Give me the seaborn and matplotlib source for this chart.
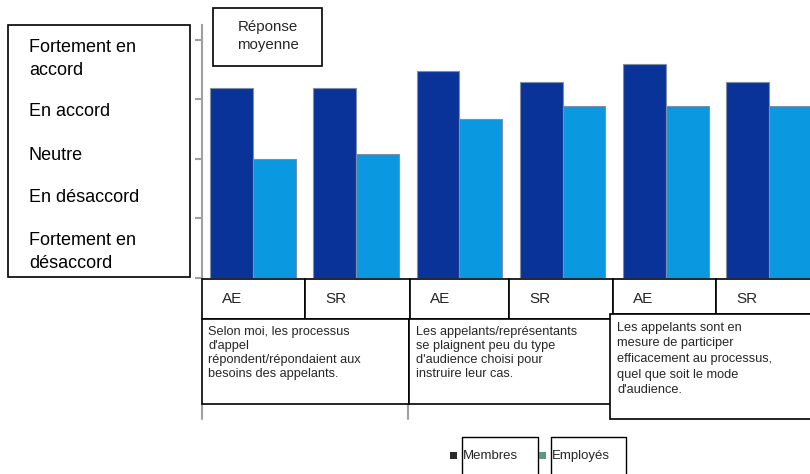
import matplotlib
matplotlib.use("Agg")
import matplotlib.pyplot as plt
import seaborn as sns
import pandas as pd
from matplotlib.patches import Rectangle
from matplotlib.lines import Line2D

# --- data -------------------------------------------------------------
groupes = ["AE", "SR", "AE", "SR", "AE", "SR"]
membres = [4.19, 4.19, 4.48, 4.29, 4.60, 4.29]
employes = [3.00, 3.08, 3.68, 3.89, 3.89, 3.89]
series = ["Membres", "Employés"]
couleurs = ["#0a3399", "#0a99e0"]
echelle = ["Fortement en\naccord", "En accord", "Neutre", "En désaccord",
           "Fortement en\ndésaccord"]
enonces = [
    "Selon moi, les processus\nd'appel\nrépondent/répondaient aux\nbesoins des appelants.",
    "Les appelants/représentants\nse plaignent peu du type\nd'audience choisi pour\ninstruire leur cas.",
    "Les appelants sont en\nmesure de participer\nefficacement au processus,\nquel que soit le mode\nd'audience.",
]
titre_axe = "Réponse\nmoyenne"

df = pd.DataFrame({
    "pos": list(range(len(groupes))) * 2,
    "valeur": membres + employes,
    "serie": [series[0]] * len(membres) + [series[1]] * len(employes),
})

W, H = 810, 474
FONT = "Liberation Sans"
sns.set_theme(style="white")
plt.rcParams["font.family"] = [FONT, "DejaVu Sans"]

fig = plt.figure(figsize=(W / 100, H / 100), dpi=100)


def fx(x):
    return x / W


def fy(y):
    return 1 - y / H


def box(x0, y0, x1, y1, lw=1.2, z=5):
    fig.add_artist(Rectangle((fx(x0), fy(y1)), fx(x1) - fx(x0), fy(y0) - fy(y1),
                             transform=fig.transFigure, facecolor="white",
                             edgecolor="black", linewidth=lw, zorder=z))


# --- bars -------------------------------------------------------------
ax = fig.add_axes([fx(202), fy(278), fx(810) - fx(202), fy(25) - fy(278)])
sns.barplot(data=df, x="pos", y="valeur", hue="serie", hue_order=series,
            palette=couleurs, width=0.83, saturation=1, ax=ax,
            linewidth=0.8, edgecolor="#7f8fa8", legend=False)
ax.set_xlim(-0.494, 5.397)
ax.set_ylim(1, 5.252)
ax.set_yticks([1, 2, 3, 4, 5])
ax.set_yticklabels([])
ax.set_xticks([])
ax.set_xlabel("")
ax.set_ylabel("")
for s in ["top", "right", "bottom"]:
    ax.spines[s].set_visible(False)
ax.spines["left"].set_color("#a0a0a0")
ax.spines["left"].set_linewidth(1.5)
ax.tick_params(axis="y", left=True, length=5, width=1.5, color="#a0a0a0",
               direction="out")

# --- scale label box on the left ------------------------------------
box(8, 25, 190, 277)
for lab, yc in zip(echelle, [59, 111, 155, 198, 252]):
    fig.text(fx(29), fy(yc), lab, ha="left", va="center", fontsize=13,
             linespacing=1.45, color="black", zorder=6)

# --- axis title box ---------------------------------------------------
box(213, 8, 322, 66)
fig.text(fx(268), fy(36), titre_axe, ha="center", va="center", fontsize=10.8,
         linespacing=1.3, zorder=6)

# --- category rows under the bars -------------------------------------
bords = [202, 305, 410, 509, 613, 716, 830]
bas_ligne = [319, 319, 319, 319, 314, 314]
for i, g in enumerate(groupes):
    box(bords[i], 279, bords[i + 1], bas_ligne[i])
    fig.text(fx(bords[i] + 20), fy(299), g, ha="left", va="center",
             fontsize=11, zorder=6)

# gray continuation marks of the category axis
for xg in (202, 408):
    fig.add_artist(Line2D([fx(xg), fx(xg)], [fy(404), fy(419)],
                          transform=fig.transFigure, color="#a0a0a0",
                          linewidth=1.5, zorder=4))

enonce_boites = [(202, 319, 409, 404), (409, 319, 612, 404), (610, 314, 830, 419)]
enonce_x = [208, 416, 617]
enonce_y = [353, 353, 359]
enonce_esp = [1.2, 1.2, 1.4]
for (x0, y0, x1, y1), tx, ty, esp, txt in zip(enonce_boites, enonce_x, enonce_y,
                                              enonce_esp, enonces):
    box(x0, y0, x1, y1)
    fig.text(fx(tx), fy(ty), txt, ha="left", va="center", fontsize=9.2,
             linespacing=esp, zorder=6)

# --- legend -----------------------------------------------------------
leg_boites = [(462, 437, 538, 480), (551, 437, 626, 480)]
leg_marques = ["#2b2b2b", "#5c9684"]
for (x0, y0, x1, y1), nom, mc in zip(leg_boites, series, leg_marques):
    box(x0, y0, x1, y1, lw=1.0)
    fig.add_artist(Rectangle((fx(x0 - 12), fy(459)), fx(7), fy(452) - fy(459),
                             transform=fig.transFigure, facecolor=mc,
                             edgecolor="none", zorder=6))
    fig.text(fx(x0 + 1), fy(456), nom, ha="left", va="center", fontsize=9.5,
             zorder=7)

fig.savefig("out.png", dpi=100)
